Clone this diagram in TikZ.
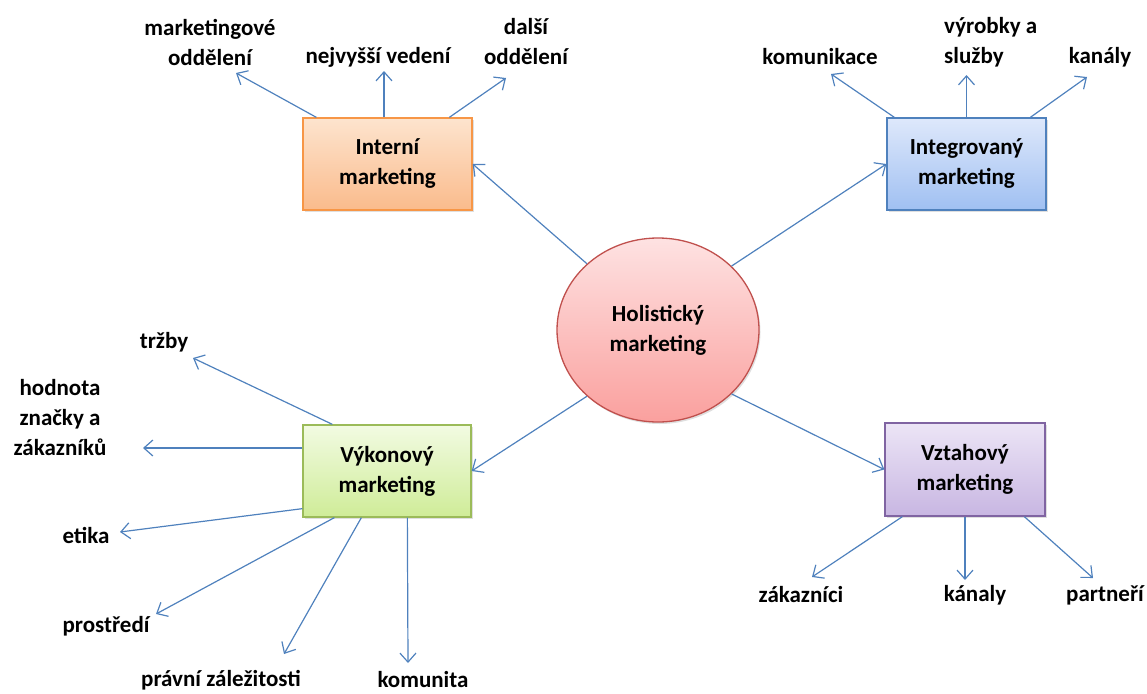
\documentclass[tikz,border=0pt]{standalone}
\usepackage{fontspec}
\setmainfont{Carlito}
\usetikzlibrary{shapes.geometric,arrows.meta,shadows}

\definecolor{linkblue}{RGB}{79,129,189}
\definecolor{orangeline}{RGB}{247,150,70}
\definecolor{blueline}{RGB}{79,129,189}
\definecolor{greenline}{RGB}{155,187,89}
\definecolor{purpleline}{RGB}{128,100,162}
\definecolor{redline}{RGB}{192,80,77}

\tikzset{
  txt/.style={font=\fontsize{23}{30}\selectfont\bfseries, inner sep=0pt, align=center},
  box/.style={txt, draw, line width=1.3pt, minimum height=92pt,
    drop shadow={shadow xshift=1.5pt, shadow yshift=-2pt, opacity=0.25}},
  arr/.style={draw=linkblue, line width=1.2pt, -{Straight Barb[length=9pt,width=16pt]}}
}

\begin{document}
\begin{tikzpicture}[x=1pt,y=-1pt]
  \useasboundingbox (0,0) rectangle (1147,693);

  % centre and the four boxes
  \node[txt, ellipse, draw=redline, line width=1.3pt, minimum width=202pt, minimum height=184pt,
    top color={rgb,255:red,254;green,226;blue,226}, bottom color={rgb,255:red,250;green,160;blue,158},
    drop shadow={shadow xshift=1.5pt, shadow yshift=-2pt, opacity=0.25}]
    (holo) at (658,330) {Holistický\\marketing};
  \node[box, draw=orangeline, minimum width=169pt,
    top color={rgb,255:red,253;green,228;blue,206}, bottom color={rgb,255:red,250;green,187;blue,140}]
    (intern) at (387.5,164) {Interní\\marketing};
  \node[box, draw=blueline, minimum width=159pt,
    top color={rgb,255:red,222;green,232;blue,251}, bottom color={rgb,255:red,160;green,192;blue,242}]
    (integ) at (966.5,164) {Integrovaný\\marketing};
  \node[box, draw=greenline, minimum width=168pt,
    top color={rgb,255:red,242;green,251;blue,226}, bottom color={rgb,255:red,207;green,236;blue,152}]
    (vykon) at (387,471) {Výkonový\\marketing};
  \node[box, draw=purpleline, minimum width=160pt, minimum height=93pt,
    top color={rgb,255:red,236;green,229;blue,246}, bottom color={rgb,255:red,200;green,182;blue,226}]
    (vztah) at (965,469.5) {Vztahový\\marketing};

  % labels
  \node[txt] (mktg) at (210,42) {marketingové\\oddělení};
  \node[txt] (vedeni) at (378,57) {nejvyšší vedení};
  \node[txt] (dalsi) at (526,42) {další\\oddělení};
  \node[txt] (komun) at (820,57) {komunikace};
  \node[txt, align=left, anchor=west] (vyrob) at (944,42) {výrobky a\\služby};
  \node[txt] (kanaly) at (1100,57) {kanály};
  \node[txt] (trzby) at (164,342) {tržby};
  \node[txt] (hodnota) at (60,418) {hodnota\\značky a\\zákazníků};
  \node[txt] (etika) at (86,535) {etika};
  \node[txt] (prostr) at (106,626) {prostředí};
  \node[txt] (pravni) at (221,680) {právní záležitosti};
  \node[txt] (komunita) at (423,680) {komunita};
  \node[txt] (zakaz) at (801,595) {zákazníci};
  \node[txt] (kanaly2) at (975,595) {kánaly};
  \node[txt] (partn) at (1105,595) {partneří};

  % arrow tips
  \coordinate (tmktg) at (236,73);
  \coordinate (tvedeni) at (384,71);
  \coordinate (tdalsi) at (506,78);
  \coordinate (tkomun) at (831,74);
  \coordinate (tvyrob) at (966.5,75);
  \coordinate (tkanaly) at (1087,77);
  \coordinate (ttrzby) at (193,358);
  \coordinate (thodnota) at (143,448);
  \coordinate (tetika) at (120,532);
  \coordinate (tprostr) at (156,614);
  \coordinate (tpravni) at (284,654);
  \coordinate (tkomunita) at (408,663);
  \coordinate (tzakaz) at (812,577);
  \coordinate (tkanaly2) at (965,580);
  \coordinate (tpartn) at (1093,578);

  % centre to boxes
  \draw[arr] (holo.137) -- (intern.east);
  \draw[arr] (holo.41) -- (integ.west);
  \draw[arr] (holo.223) -- (vykon.east);
  \draw[arr] (holo.319) -- (vztah.west);

  % boxes to labels
  \draw[arr] ([xshift=14pt]intern.north west) -- (tmktg);
  \draw[arr] ([xshift=-3.5pt]intern.north) -- (tvedeni);
  \draw[arr] ([xshift=147pt]intern.north west) -- (tdalsi);
  \draw[arr] ([xshift=8pt]integ.north west) -- (tkomun);
  \draw[arr] (integ.north) -- (tvyrob);
  \draw[arr] ([xshift=144pt]integ.north west) -- (tkanaly);
  \draw[arr] ([xshift=30pt]vykon.north west) -- (ttrzby);
  \draw[arr] ([yshift=23pt]vykon.west) -- (thodnota);
  \draw[arr] ([yshift=9pt]vykon.south west) -- (tetika);
  \draw[arr] ([xshift=32pt]vykon.south west) -- (tprostr);
  \draw[arr] ([xshift=59pt]vykon.south west) -- (tpravni);
  \draw[arr] ([xshift=105pt]vykon.south west) -- (tkomunita);
  \draw[arr] ([xshift=18pt]vztah.south west) -- (tzakaz);
  \draw[arr] (vztah.south) -- (tkanaly2);
  \draw[arr] ([xshift=140pt]vztah.south west) -- (tpartn);
\end{tikzpicture}
\end{document}
